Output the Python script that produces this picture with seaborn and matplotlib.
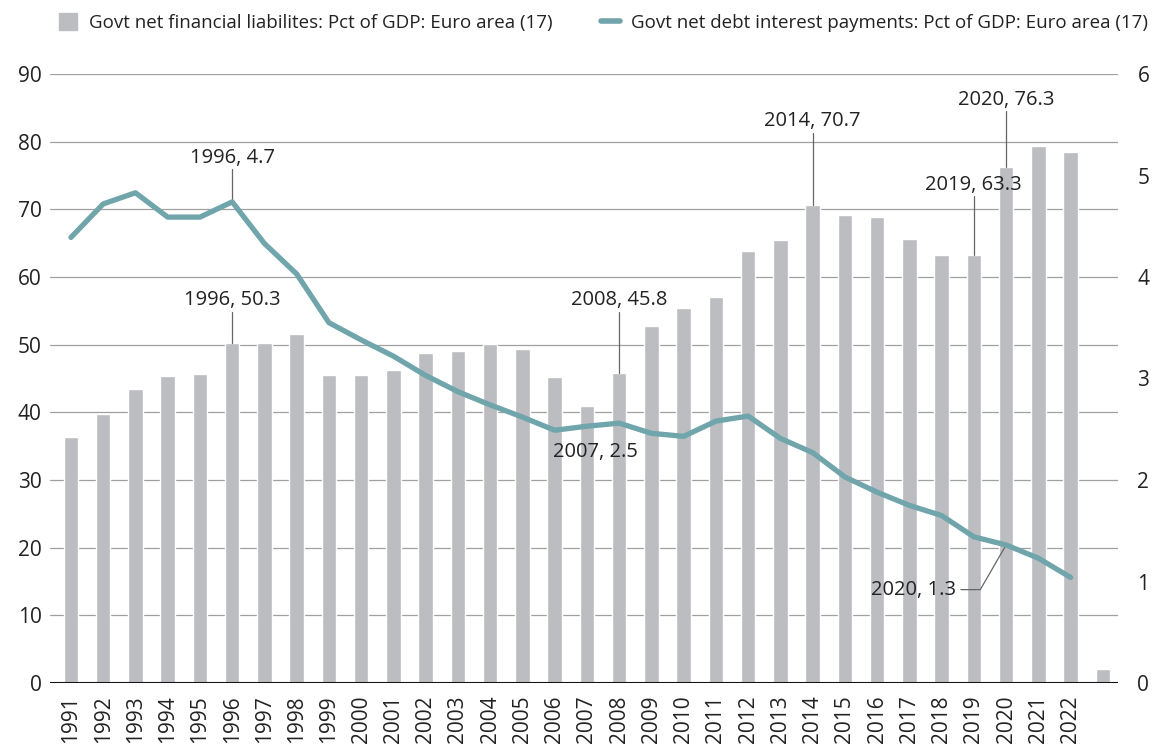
import matplotlib.pyplot as plt
import matplotlib.lines as mlines
import matplotlib.patches as mpatches
import seaborn as sns
import pandas as pd

years = [str(y) for y in range(1991, 2024)]
tick_labels = [str(y) for y in range(1991, 2023)] + [""]
liabilities = [36.3, 39.8, 43.5, 45.3, 45.6, 50.3, 50.3, 51.6, 45.5, 45.5,
               46.2, 48.8, 49.1, 50.1, 49.3, 45.2, 41.0, 45.8, 52.8, 55.4,
               57.0, 63.8, 65.4, 70.7, 69.2, 68.8, 65.6, 63.2, 63.3, 76.3,
               79.4, 78.4, 2.0]
interest = [4.39, 4.72, 4.83, 4.59, 4.59, 4.74, 4.33, 4.03, 3.55, 3.38,
            3.22, 3.03, 2.87, 2.74, 2.62, 2.49, 2.53, 2.56, 2.46, 2.43,
            2.58, 2.63, 2.41, 2.27, 2.03, 1.88, 1.75, 1.65, 1.44, 1.36,
            1.23, 1.04]

bar_label = "Govt net financial liabilites: Pct of GDP: Euro area (17)"
line_label = "Govt net debt interest payments: Pct of GDP: Euro area (17)"

sns.set_style("white")
plt.rcParams['font.family'] = ['Open Sans', 'DejaVu Sans']
text_col = "#222222"

fig = plt.figure(figsize=(11.57, 7.51), dpi=100)
ax = fig.add_axes([50 / 1157, 68 / 751, 1068 / 1157, 609 / 751])

df_bar = pd.DataFrame({"year": years, "value": liabilities})
sns.barplot(data=df_bar, x="year", y="value", color="#bcbdc1", width=0.45,
            saturation=1, ax=ax, zorder=2)
ax.set_ylim(0, 90)
ax.set_yticks(range(0, 100, 10))
ax.set_xlim(-0.65, 32.47)
ax.set_xticks(range(len(years)))
ax.set_xticklabels(tick_labels, rotation=90, fontsize=15, color=text_col)
ax.tick_params(axis="y", labelsize=15, labelcolor=text_col, length=0, pad=6)
ax.tick_params(axis="x", length=0, pad=9)
ax.grid(axis="y", color="#a0a0a0", linewidth=0.9, zorder=0)
ax.set_axisbelow(True)
for s in ax.spines.values():
    s.set_visible(False)
ax.axhline(0, color="#111111", linewidth=2.2, zorder=3)
ax.set_xlabel("")
ax.set_ylabel("")

ax2 = ax.twinx()
df_line = pd.DataFrame({"pos": range(len(interest)), "value": interest})
sns.lineplot(data=df_line, x="pos", y="value", color="#6fa5ab", linewidth=3.8,
             ax=ax2, zorder=4)
ax2.set_ylim(0, 6)
ax2.set_yticks(range(0, 7))
ax2.tick_params(axis="y", labelsize=15, labelcolor=text_col, length=0, pad=14)
for s in ax2.spines.values():
    s.set_visible(False)
ax2.set_xlabel("")
ax2.set_ylabel("")
ax2.set_xlim(-0.65, 32.47)

ann_kw = dict(fontsize=14.5, color=text_col, ha="center", va="center")
line_kw = dict(color="#666666", linewidth=0.9)

# bar annotations (left axis)
def bar_note(i, val, text_y):
    ax.plot([i, i], [val, text_y - 1.7], **line_kw, zorder=3)
    ax.text(i, text_y, f"{years[i]}, {val}", **ann_kw)

bar_note(5, liabilities[5], 56.6)
bar_note(17, liabilities[17], 56.6)
bar_note(23, liabilities[23], 83.0)
bar_note(28, liabilities[28], 73.6)
bar_note(29, liabilities[29], 86.2)

# line annotations (right axis)
ax2.plot([5, 5], [interest[5], 5.06], **line_kw)
ax2.text(5, 5.17, "1996, 4.7", **ann_kw)
ax2.text(16.25, 2.28, "2007, 2.5", **ann_kw)
ax2.plot([27.6, 28.2, 29], [0.92, 0.92, interest[29]], **line_kw)
ax2.text(27.45, 0.92, "2020, 1.3", fontsize=14.5, color=text_col,
         ha="right", va="center")

handles = [mpatches.Patch(color="#bcbdc1", label=bar_label),
           mlines.Line2D([], [], color="#6fa5ab", linewidth=4, label=line_label)]
fig.legend(handles=handles, loc="upper left", bbox_to_anchor=(0.036, 1.005),
           ncol=2, frameon=False, fontsize=13.5, handlelength=1.0, handleheight=1.0,
           columnspacing=2.6, handletextpad=0.6, labelcolor=text_col)

fig.savefig("out.png", dpi=100)
